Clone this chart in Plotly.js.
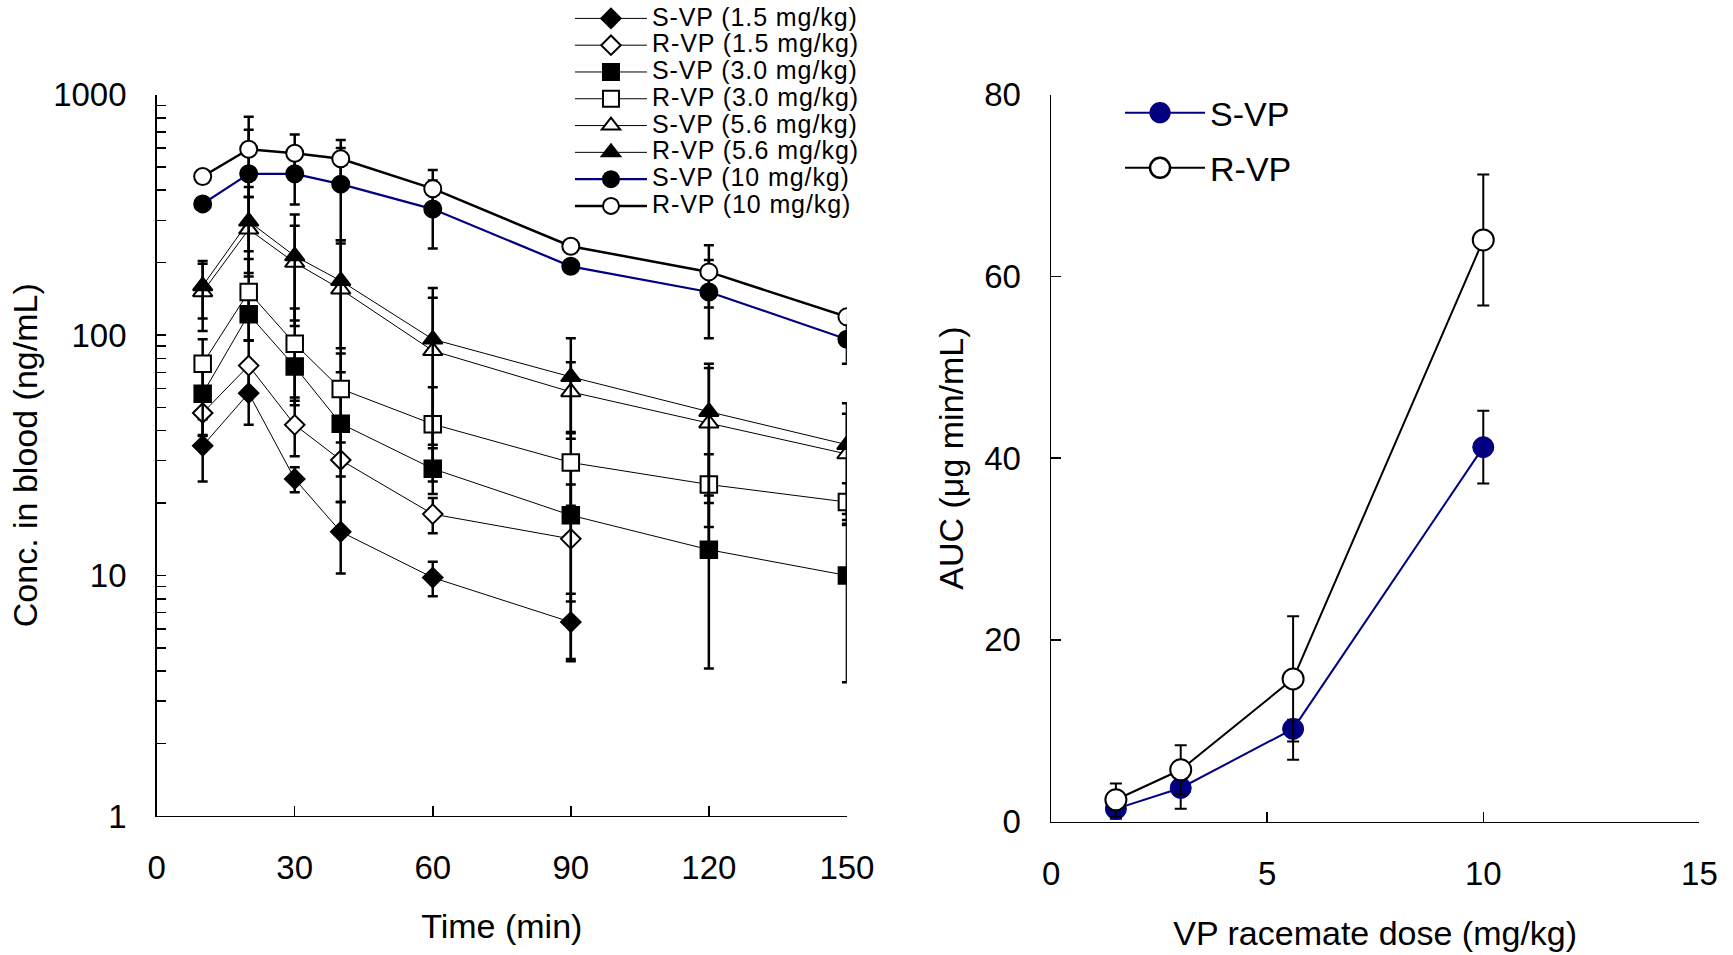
<!DOCTYPE html>
<html>
<head>
<meta charset="utf-8">
<script src="https://cdn.plot.ly/plotly-3.0.1.min.js"></script>
<style>
html,body{margin:0;padding:0;background:#fff;}
#chart{width:1733px;height:955px;}
g.legend .legendtext { font-size: 25px !important; letter-spacing: 0.9px; }
g.legend .scrollbox, g.legend2 .scrollbox { clip-path: none !important; }
g.legend2 .legendpoints path { transform: translate(40px,0px) scale(1.25); }
</style>
</head>
<body>
<div id="chart"></div>
<script>
// ---- Left panel: blood concentration vs time (log scale) ----
const times = [10, 20, 30, 40, 60, 90, 120, 150];
const times15 = [10, 20, 30, 40, 60, 90];

const sVP15 = [34.6, 57.3, 25.2, 15.2, 9.8, 6.4];
const sVP15err = [10, 15, 3, 5, 1.6, 2];
const rVP15 = [47.4, 74.6, 42.3, 30.2, 18.0, 14.2];
const rVP15err = [9, 20, 11, 10, 3, 9.7];

const sVP30 = [57, 122, 74, 42.8, 27.8, 17.8, 12.8, 10.0];
const sVP30err = [19, 27, 23, 17, 6, 10, 8.7, 6.4];
const rVP30 = [76, 151, 92, 59.7, 42.6, 29.5, 23.9, 20.2];
const rVP30err = [20, 56, 37, 24, 18, 10, 8, 4];

const sVP56 = [151, 275, 200, 155, 86, 58, 43, 32];
const sVP56err = [47, 100, 85, 85, 57, 19, 30, 15];
const rVP56 = [160, 297, 213, 168, 96, 67, 48, 35];
const rVP56err = [43, 116, 104, 80, 61, 30, 28, 17];

const sVP10 = [351, 468, 468, 424, 334, 193, 151, 96];
const sVP10err = [10, 245, 119, 176, 105, 10, 54, 20];
const rVP10 = [456, 592, 570, 541, 406, 234, 183, 119];
const rVP10err = [10, 217, 112, 106, 80, 8, 53, 5];

const legendNames = [
  "S-VP (1.5 mg/kg)", "R-VP (1.5 mg/kg)", "S-VP (3.0 mg/kg)", "R-VP (3.0 mg/kg)",
  "S-VP (5.6 mg/kg)", "R-VP (5.6 mg/kg)", "S-VP (10 mg/kg)", "R-VP (10 mg/kg)"
];

// log-axis tick values and labels
const logTickVals = [];
const logTickText = [];
[1, 10, 100].forEach(d => {
  for (let k = 1; k <= 9; k++) {
    logTickVals.push(k * d);
    logTickText.push(k === 1 ? String(d) : "");
  }
});
logTickVals.push(1000);
logTickText.push("1000");
const timeTicks = [0, 30, 60, 90, 120, 150];

// ---- Right panel: AUC vs dose ----
const doses = [1.5, 3.0, 5.6, 10];
const aucS = [1.4, 3.7, 10.2, 41.2];
const aucSerrPlus = [1.1, 2.3, 1.0, 4.0];
const aucSerrMinus = [1.1, 2.3, 3.4, 4.0];
const aucR = [2.4, 5.7, 15.7, 64.0];
const aucRerrPlus = [1.8, 2.7, 6.9, 7.2];
const aucRerrMinus = [1.8, 2.7, 6.9, 7.2];
const doseTicks = [0, 5, 10, 15];
const aucTicks = [0, 20, 40, 60, 80];

const FONT = "Arial, 'Liberation Sans', sans-serif";
const NAVY = "#000080";

function errL(arr) {
  return {type: "data", array: arr, visible: true, color: "#000", thickness: 2.5, width: 5};
}
function leftTrace(x, y, err, name, symbol, filled, lineColor, lineWidth, size) {
  return {
    type: "scatter", mode: "lines+markers", x: x, y: y, name: name,
    xaxis: "x", yaxis: "y", legend: "legend",
    line: {color: lineColor, width: lineWidth},
    marker: {symbol: symbol, size: size, color: filled ? "#000" : "#fff", line: {color: "#000", width: 2}},
    error_y: errL(err)
  };
}

const traces = [
  leftTrace(times15, sVP15, sVP15err, legendNames[0], "diamond", true, "#000", 1, 15),
  leftTrace(times15, rVP15, rVP15err, legendNames[1], "diamond", false, "#000", 1, 15),
  leftTrace(times, sVP30, sVP30err, legendNames[2], "square", true, "#000", 1, 16.5),
  leftTrace(times, rVP30, rVP30err, legendNames[3], "square", false, "#000", 1, 16.5),
  leftTrace(times, sVP56, sVP56err, legendNames[4], "triangle-up", false, "#000", 1, 17),
  leftTrace(times, rVP56, rVP56err, legendNames[5], "triangle-up", true, "#000", 1, 17),
  leftTrace(times, sVP10, sVP10err, legendNames[6], "circle", true, NAVY, 2.2, 17),
  leftTrace(times, rVP10, rVP10err, legendNames[7], "circle", false, "#000", 2.5, 17),
  {
    type: "scatter", mode: "lines+markers", x: doses, y: aucS, name: "S-VP",
    xaxis: "x2", yaxis: "y2", legend: "legend2", legendgroup: "s",
    line: {color: NAVY, width: 2},
    marker: {symbol: "circle", size: 21, color: NAVY, line: {color: NAVY, width: 1}},
    error_y: {type: "data", symmetric: false, array: aucSerrPlus, arrayminus: aucSerrMinus,
      color: "#000", thickness: 2, width: 6}
  },
  {
    type: "scatter", mode: "lines+markers", x: doses, y: aucR, name: "R-VP",
    xaxis: "x2", yaxis: "y2", legend: "legend2", legendgroup: "r",
    line: {color: "#000", width: 2},
    marker: {symbol: "circle", size: 21, color: "#fff", line: {color: "#000", width: 2}},
    error_y: {type: "data", symmetric: false, array: aucRerrPlus, arrayminus: aucRerrMinus,
      color: "#000", thickness: 2, width: 6}
  }
];

const axisCommon = {
  showline: true, linecolor: "#000", linewidth: 1.5, mirror: false,
  showgrid: false, zeroline: false, ticks: "inside", tickcolor: "#000",
  tickwidth: 1.5, ticklen: 10, tickfont: {family: FONT, size: 33, color: "#000"}
};

const layout = {
  width: 1733, height: 955,
  paper_bgcolor: "#fff", plot_bgcolor: "#fff",
  margin: {l: 0, r: 0, t: 0, b: 0},
  font: {family: FONT, color: "#000"},
  xaxis: Object.assign({}, axisCommon, {
    domain: [0.0904, 0.4887], range: [0, 150], tickmode: "array", tickvals: timeTicks,
    anchor: "y", ticklabelstandoff: 22,
    title: {text: "Time (min)", font: {family: FONT, size: 34, color: "#000"}, standoff: 29}
  }),
  yaxis: Object.assign({}, axisCommon, {
    type: "log", domain: [0.1459, 0.9029], range: [0, 3], tickmode: "array",
    tickvals: logTickVals, ticktext: logTickText, ticklen: 9, anchor: "x", ticklabelstandoff: 22,
    title: {text: "Conc. in blood (ng/mL)", font: {family: FONT, size: 34, color: "#000"}, standoff: 5}
  }),
  xaxis2: Object.assign({}, axisCommon, {
    domain: [0.6065, 0.9806], range: [0, 15], tickmode: "array", tickvals: doseTicks,
    anchor: "y2", ticklabelstandoff: 22,
    title: {text: "VP racemate dose (mg/kg)", font: {family: FONT, size: 34, color: "#000"}, standoff: 30}
  }),
  yaxis2: Object.assign({}, axisCommon, {
    domain: [0.1400, 0.9029], range: [0, 80], tickmode: "array", tickvals: aucTicks,
    anchor: "x2", ticklabelstandoff: 22,
    title: {text: "AUC (μg min/mL)", font: {family: FONT, size: 34, color: "#000"}, standoff: 10}
  }),
  legend: {
    x: 0.3289, y: 1.0025, xanchor: "left", yanchor: "top",
    bgcolor: "rgba(0,0,0,0)", borderwidth: 0,
    font: {family: FONT, size: 18.3, color: "#000"}, itemwidth: 72, tracegroupgap: 0
  },
  legend2: {
    x: 0.6463, y: 0.9139, xanchor: "left", yanchor: "top",
    bgcolor: "rgba(0,0,0,0)", borderwidth: 0, traceorder: "grouped", tracegroupgap: 8,
    font: {family: FONT, size: 34, color: "#000"}, itemwidth: 80
  },
  showlegend: true
};

Plotly.newPlot("chart", traces, layout, {staticPlot: true, displayModeBar: false});
</script>
</body>
</html>
